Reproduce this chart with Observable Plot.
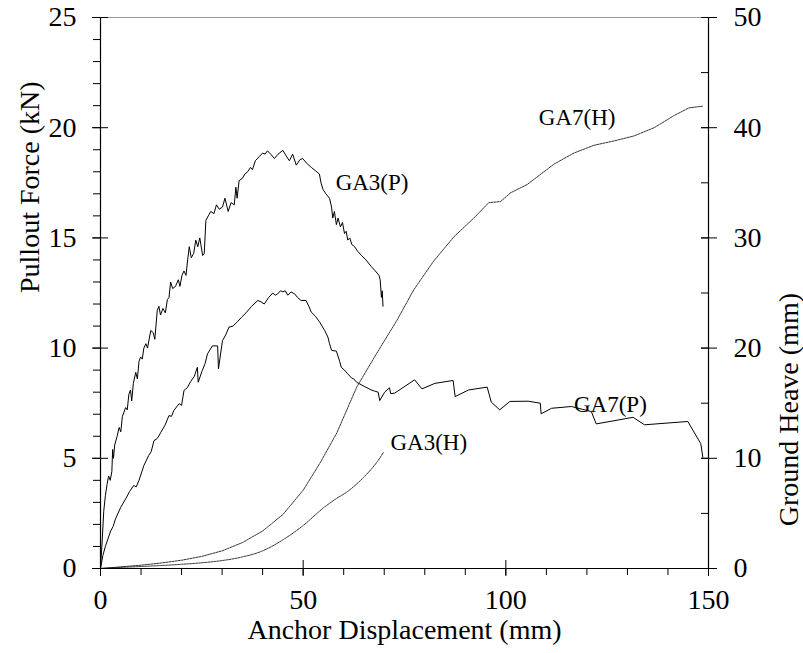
<!DOCTYPE html>
<html>
<head>
<meta charset="utf-8">
<script src="https://cdn.jsdelivr.net/npm/d3@7"></script>
<script src="https://cdn.jsdelivr.net/npm/@observablehq/plot@0.6"></script>
<style>
  html, body { margin: 0; padding: 0; background: white; }
  #chart { width: 803px; height: 653px; }
  #chart svg, #chart svg text { font-family: "Liberation Serif", "Times New Roman", Times, serif !important; }
</style>
</head>
<body>
<div id="chart"></div>
<script>
// Pullout force (kN) vs anchor displacement (mm)
const ga3P = [[0,0],[0.4,1.2],[0.8,2.6],[1.2,3.3],[1.6,3.8],[2.0,4.2],[2.4,4.0],[2.8,4.4],[3.0,5.4],[3.2,5.0],[3.5,5.6],[4.1,6.0],[4.6,6.4],[5.0,6.2],[5.4,6.9],[6.2,7.3],[6.6,7.2],[7.0,7.9],[7.4,8.1],[7.7,7.6],[8.1,8.4],[8.7,8.9],[9.1,8.6],[9.5,9.4],[9.9,9.6],[10.3,9.5],[10.7,10.0],[11.2,10.2],[11.6,10.0],[12.4,10.8],[13.0,10.7],[13.4,10.4],[14.0,11.7],[14.4,11.9],[14.8,11.5],[15.4,11.8],[16.0,11.6],[16.5,12.2],[16.9,12.3],[17.3,13.0],[17.8,12.7],[18.5,12.8],[19.2,13.1],[19.6,12.8],[20.1,13.3],[20.6,13.5],[21.1,13.3],[21.5,14.0],[21.9,14.6],[22.4,14.1],[23.0,14.3],[23.5,14.9],[24.0,14.6],[24.5,15.0],[25.2,14.2],[25.6,14.3],[26.0,15.8],[26.6,16.0],[27.2,16.2],[28.0,16.1],[28.6,16.5],[29.3,16.3],[30.1,16.4],[30.7,16.8],[31.5,16.2],[32.2,16.6],[33.0,16.5],[33.4,17.3],[33.7,16.8],[34.2,17.6],[35.0,17.7],[35.6,17.9],[36.3,18.0],[37.0,18.2],[37.5,18.1],[38.2,18.5],[39.2,18.7],[40.0,18.85],[40.6,18.8],[41.2,18.95],[42.0,18.8],[42.9,18.6],[43.8,18.8],[45.0,18.97],[45.7,18.75],[46.6,18.5],[47.4,18.8],[48.3,18.3],[49.2,18.55],[49.9,18.6],[50.8,18.4],[52.0,18.2],[53.0,18.05],[54.0,17.9],[54.4,17.5],[54.9,17.2],[55.6,17.0],[56.5,16.8],[57.0,16.4],[57.3,15.9],[57.7,16.2],[58.2,15.6],[58.6,15.9],[59.2,15.5],[59.7,15.7],[60.2,15.2],[60.6,15.3],[61.0,14.9],[61.5,15.0],[62.0,14.7],[62.7,14.6],[63.4,14.4],[64.4,14.2],[65.5,14.0],[66.8,13.7],[67.8,13.5],[68.7,13.3],[69.0,13.1],[69.3,12.3],[69.5,12.6],[69.7,11.9]];

const ga7P = [[0,0],[0.6,0.6],[1.2,1.0],[2.5,1.7],[3.1,1.9],[3.7,2.25],[5.0,2.78],[6.2,3.16],[7.2,3.5],[8.2,3.77],[8.8,3.7],[9.5,4.0],[10.7,4.67],[11.9,5.13],[12.5,5.3],[13.2,5.8],[14.0,5.9],[14.9,6.18],[15.9,6.5],[16.9,6.94],[17.5,6.9],[18.1,7.17],[19.4,7.48],[20.0,7.4],[20.6,8.08],[21.4,8.2],[22.3,8.5],[23.1,8.7],[23.9,9.13],[24.1,8.45],[25.1,8.98],[25.8,9.3],[26.4,9.74],[27.6,10.1],[28.9,10.1],[29.1,9.06],[30.1,10.34],[30.9,10.6],[31.7,10.95],[32.7,11.0],[33.8,11.2],[34.8,11.4],[35.9,11.6],[37.3,11.9],[38.8,12.16],[39.6,12.1],[40.4,12.0],[41.5,12.3],[42.5,12.5],[43.1,12.4],[43.7,12.46],[44.4,12.6],[45.0,12.55],[45.6,12.6],[46.2,12.4],[47.0,12.55],[47.9,12.46],[48.6,12.3],[49.5,12.16],[50.7,12.16],[51.4,11.9],[52.0,11.63],[53.0,11.45],[54.0,11.2],[55.3,10.8],[56.1,10.5],[56.5,10.2],[57.0,9.9],[58.2,9.86],[59.0,9.4],[59.4,9.13],[60.2,9.0],[61.0,8.83],[61.9,8.65],[62.5,8.6],[63.2,8.45],[63.9,8.38],[65.2,8.25],[66.8,8.1],[67.6,8.05],[68.5,8.0],[68.9,7.62],[70.1,8.0],[71.3,8.2],[71.6,7.93],[72.6,7.96],[77.5,8.56],[79.3,8.15],[82.5,8.4],[87.0,8.53],[87.5,7.8],[90.8,8.1],[95.4,8.23],[96.4,7.55],[98.5,7.2],[101.0,7.58],[105.5,7.59],[108.5,7.5],[108.7,7.02],[111.3,7.27],[116.2,7.35],[121.1,7.12],[122.3,6.56],[131.4,6.86],[134.2,6.52],[144.9,6.67],[148.1,5.66],[148.6,5.05]];

// Ground heave (mm) vs anchor displacement (mm)
const ga3H = [[0,0],[5,0.1],[10,0.18],[15,0.27],[20,0.38],[25,0.52],[30,0.72],[35,1.05],[40,1.6],[45,2.6],[50,3.9],[55,5.5],[58,6.3],[61,7.0],[63,7.6],[65,8.3],[67,9.1],[68.5,9.8],[69.8,10.55]];

const ga7H = [[0,0],[5,0.15],[10,0.3],[15,0.5],[20,0.75],[25,1.1],[30,1.6],[35,2.35],[40,3.4],[45,4.9],[50,7.1],[54.2,9.6],[58.3,12.3],[63.2,16.45],[68.1,19.5],[73.1,22.5],[77.3,25.3],[82.2,27.9],[87.2,30.1],[92.1,31.8],[95.8,33.2],[98.7,33.3],[101.2,34.1],[105.3,34.85],[111.9,36.7],[116.8,37.7],[121.7,38.4],[126.7,38.8],[131.6,39.25],[136.6,40.0],[141.5,41.1],[145.2,41.8],[148.5,41.95]];

// Curve labels (position in displacement mm / force kN)
const labelText = ["GA3(P)", "GA7(H)", "GA7(P)", "GA3(H)"];
const labelX = [67.0, 117.6, 125.8, 81.0];
const labelY = [17.52, 20.46, 7.44, 5.73];

// Axes
const xMajor = [0, 50, 100, 150];
const xMinor = d3.range(0, 151, 10);
const yLeftMajor = [0, 5, 10, 15, 20, 25];
const yLeftMinor = d3.range(0, 26, 1);
const yRightMajor = [0, 10, 20, 30, 40, 50];
const yRightMinor = d3.range(0, 51, 5);
const xTitle = "Anchor Displacement (mm)";
const yLeftTitle = "Pullout Force (kN)";
const yRightTitle = "Ground Heave (mm)";

const heaveToForce = h => h / 2; // right axis 0–50 mm maps onto left 0–25 kN
const labels = labelText.map((t, i) => ({t, x: labelX[i], y: labelY[i]}));

const font = "Liberation Serif, Times New Roman, serif";
const tickFont = 28;

const chart = Plot.plot({
  width: 803,
  height: 653,
  marginLeft: 100,
  marginRight: 95,
  marginTop: 17,
  marginBottom: 85,
  style: {fontFamily: font, background: "white", color: "black", overflow: "visible"},
  x: {domain: [0, 150]},
  y: {domain: [0, 25]},
  marks: [
    Plot.ruleY([25], {stroke: "#999", strokeWidth: 1}),
    // left axis
    Plot.axisY({anchor: "left", ticks: yLeftMinor, tickSize: 7, tickFormat: () => "", label: null}),
    Plot.axisY({anchor: "left", ticks: yLeftMajor, tickSize: 16, dx: 8, tickFormat: () => "", label: null}),
    Plot.axisY({anchor: "left", ticks: yLeftMajor, tickSize: 0, tickPadding: 24, fontSize: tickFont, label: null}),
    // right axis (heave)
    Plot.axisY({anchor: "right", ticks: yRightMinor.map(heaveToForce), tickSize: 8, dx: -8, tickFormat: () => "", label: null}),
    Plot.axisY({anchor: "right", ticks: yRightMajor.map(heaveToForce), tickSize: 16, dx: -8, tickFormat: () => "", label: null}),
    Plot.axisY({anchor: "right", ticks: yRightMajor.map(heaveToForce), tickSize: 0, tickPadding: 25, fontSize: tickFont, tickFormat: d => d3.format("d")(d * 2), label: null}),
    // bottom axis
    Plot.axisX({anchor: "bottom", ticks: xMinor, tickSize: 7, tickFormat: () => "", label: null}),
    Plot.axisX({anchor: "bottom", ticks: xMajor, tickSize: 16, dy: -8, tickFormat: () => "", label: null}),
    Plot.axisX({anchor: "bottom", ticks: xMajor, tickSize: 0, tickPadding: 21, fontSize: tickFont, label: null}),
    Plot.ruleX([0], {stroke: "black", strokeWidth: 1.2}),
    Plot.ruleX([150], {stroke: "black", strokeWidth: 1.2}),
    Plot.ruleY([0], {stroke: "black", strokeWidth: 1.2}),
    // axis titles
    Plot.text([yLeftTitle], {frameAnchor: "left", rotate: -90, dx: -70, text: d => d, fontSize: tickFont, fill: "black"}),
    Plot.text([yRightTitle], {frameAnchor: "right", rotate: -90, dx: 81, text: d => d, fontSize: tickFont, fill: "black"}),
    Plot.text([xTitle], {frameAnchor: "bottom", dy: 70, text: d => d, fontSize: tickFont, fill: "black"}),
    // curves
    Plot.line(ga3H, {x: d => d[0], y: d => heaveToForce(d[1]), stroke: "black", strokeWidth: 0.8, strokeDasharray: "2,1", curve: "monotone-x"}),
    Plot.line(ga7H, {x: d => d[0], y: d => heaveToForce(d[1]), stroke: "black", strokeWidth: 0.8, strokeDasharray: "2,1"}),
    Plot.line(ga3P, {x: d => d[0], y: d => d[1], stroke: "black", strokeWidth: 1}),
    Plot.line(ga7P, {x: d => d[0], y: d => d[1], stroke: "black", strokeWidth: 1}),
    // curve labels
    Plot.text(labels, {x: "x", y: "y", text: "t", fontSize: 23, fill: "black"})
  ]
});
document.getElementById("chart").appendChild(chart);
</script>
</body>
</html>
